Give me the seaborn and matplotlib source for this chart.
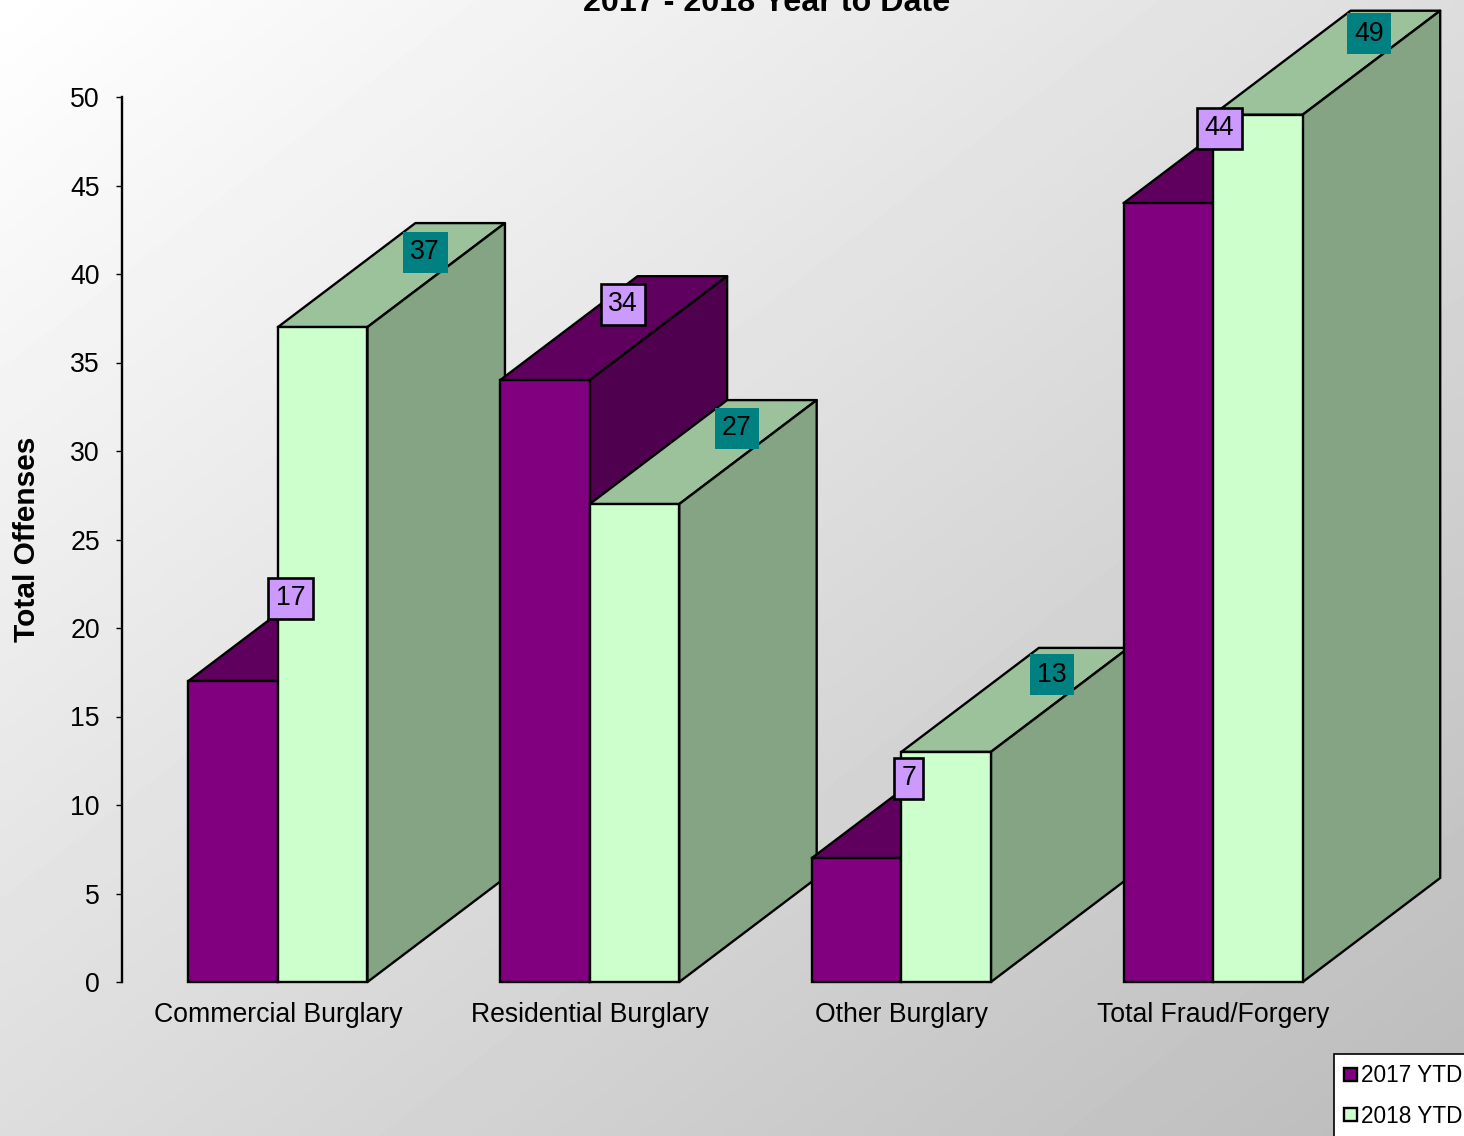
import numpy as np
import pandas as pd
import seaborn as sns
import matplotlib.pyplot as plt
from matplotlib.patches import Polygon, Patch

# Values
categories = ["Commercial Burglary", "Residential Burglary", "Other Burglary", "Total Fraud/Forgery"]
ytd_2017 = [17, 34, 7, 44]
ytd_2018 = [37, 27, 13, 49]
series_names = ["2017 YTD", "2018 YTD"]

front_colors = ["#800080", "#ccffcc"]
top_colors = ["#5f005f", "#9cc29c"]
side_colors = ["#4f004f", "#84a484"]

W, H = 1464, 1136
DX, DY = 137.5, 104  # depth of the fake 3D, in pixels
EDGE = 1.7

sns.set_theme(style="white")
plt.rcParams["font.family"] = ["Liberation Sans", "DejaVu Sans"]

df = pd.DataFrame({
    "category": categories * 2,
    "offenses": ytd_2017 + ytd_2018,
    "series": [series_names[0]] * 4 + [series_names[1]] * 4,
})

fig = plt.figure(figsize=(W / 100, H / 100), dpi=100)

# diagonal background gradient
bg = fig.add_axes([0, 0, 1, 1], zorder=-1)
xx, yy = np.meshgrid(np.linspace(0, 1, 300), np.linspace(0, 1, 300))
bg.imshow(255 - 68 * (xx + yy) / 2, cmap="gray", vmin=0, vmax=255, aspect="auto")
bg.axis("off")

ax = fig.add_axes([122 / W, 1 - 982 / H, (1369 - 122) / W, (982 - 97) / H])
ax.patch.set_visible(False)

sns.barplot(data=df, x="category", y="offenses", hue="series", palette=front_colors,
            width=179 / 311.5, edgecolor="black", linewidth=EDGE, saturation=1,
            legend=False, ax=ax)
ax.set_xlim(-0.5, 3.5)
ax.set_ylim(0, 50)

# depth in data units
dx = DX / (1247 / 4)
dy = DY / (885 / 50)

for s, container in enumerate(ax.containers):
    for i, bar in enumerate(container):
        x0, x1 = bar.get_x(), bar.get_x() + bar.get_width()
        h = bar.get_height()
        base = 3 * i + 2 * s
        bar.set_zorder(base + 1.5)
        bar.set_clip_on(False)
        top = Polygon([(x0, h), (x1, h), (x1 + dx, h + dy), (x0 + dx, h + dy)],
                      facecolor=top_colors[s], edgecolor="black", lw=EDGE,
                      zorder=base + 1, clip_on=False, joinstyle="round")
        side = Polygon([(x1, 0), (x1, h), (x1 + dx, h + dy), (x1 + dx, dy)],
                       facecolor=side_colors[s], edgecolor="black", lw=EDGE,
                       zorder=base + 1, clip_on=False, joinstyle="round")
        ax.add_patch(top)
        ax.add_patch(side)

# value labels, offsets from bar top centre in pixels
label_offsets = [
    [(57.5, 83), (78, 76), (52, 80), (51, 75)],
    [(102.5, 75), (102.5, 76), (106, 77), (111, 81)],
]
box_styles = [
    dict(boxstyle="square,pad=0.28", facecolor="#cc99ff", edgecolor="black", linewidth=1.9),
    dict(boxstyle="square,pad=0.28", facecolor="#008080", edgecolor="none"),
]
for s, container in enumerate(ax.containers):
    for i, bar in enumerate(container):
        ax.annotate(str(int(bar.get_height())),
                    (bar.get_x() + bar.get_width() / 2, bar.get_height()),
                    xytext=label_offsets[s][i], textcoords="offset pixels",
                    ha="center", va="center", fontsize=19.2, color="black",
                    bbox=box_styles[s], zorder=100, annotation_clip=False)

ax.set_yticks(range(0, 51, 5))
ax.tick_params(axis="y", left=True, length=4.5, width=1, color="black",
               labelsize=19.2, labelcolor="black", pad=11.4)
ax.tick_params(axis="x", bottom=False, labelsize=19.2, labelcolor="black", pad=8.5)
ax.set_xlabel("")
ax.set_ylabel("Total Offenses", fontsize=21.5, fontweight="bold", color="black", labelpad=21)
for name in ["top", "right", "bottom"]:
    ax.spines[name].set_visible(False)
ax.spines["left"].set_color("black")
ax.spines["left"].set_linewidth(EDGE)

fig.text(767 / W, 1 - 3 / H, "2017 - 2018 Year to Date", ha="center", va="center",
         fontsize=23.2, fontweight="bold", color="black")

handles = [Patch(facecolor=c, edgecolor="black", linewidth=1.7) for c in front_colors]
leg = fig.legend(handles, series_names, loc="upper left",
                 bbox_to_anchor=(1334 / W, 1 - 1054 / H), bbox_transform=fig.transFigure,
                 fontsize=16.3, frameon=True, fancybox=False, framealpha=1,
                 facecolor="white", edgecolor="black",
                 borderaxespad=0, borderpad=0.46, labelspacing=0.76,
                 handlelength=0.55, handleheight=0.55, handletextpad=0.17, labelcolor="black")
leg.get_frame().set_linewidth(1.2)

fig.savefig("out.png", dpi=100)
